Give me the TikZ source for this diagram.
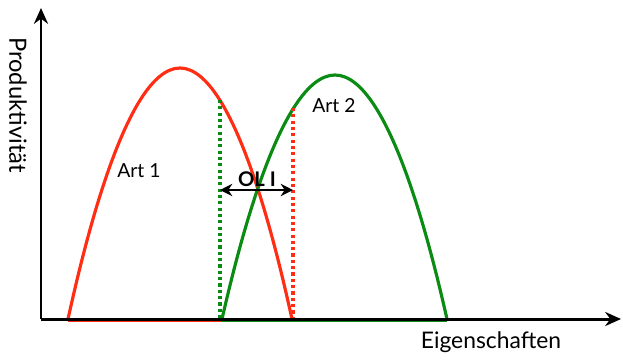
\documentclass[tikz,border=0pt]{standalone}
\usepackage{fontspec}
\setmainfont{Lato}
\usepackage{tikz}
\usetikzlibrary{arrows.meta,positioning}

\definecolor{artred}{RGB}{255,45,20}
\definecolor{artgreen}{RGB}{10,140,20}

\tikzset{
  axis/.style={line width=1.7pt, -{Stealth[length=9pt,width=8pt]}},
  curve/.style={line width=1.8pt},
  marker/.style={line width=2pt, dash pattern=on 1.8pt off 1.8pt},
  lbl/.style={font=\fontsize{11}{13}\selectfont, inner sep=1pt}
}

\begin{document}
\begin{tikzpicture}[x=0.02cm, y=-0.02cm]
\useasboundingbox (0,0) rectangle (623,360);

% Axes end points
\coordinate (origin) at (41,319);
\coordinate (ytop) at (41,8);
\coordinate (xend) at (621,319);

% Art 1
\draw[curve, artred] (68,319) parabola bend (180,68) (292,319);
\draw[curve, artred] (68,320.5) -- (292,320.5);
% Art 2
\draw[curve, artgreen] (222,319) parabola bend (335,75) (447,319);
\draw[curve, artgreen] (222,320.5) -- (447,320.5);

% Overlap boundaries
\coordinate (gtop) at (220,100);
\coordinate (gbot) at (220,319);
\coordinate (rtop) at (293,108);
\coordinate (rbot) at (293,319);
\draw[marker, artgreen] (gtop) -- (gbot);
\draw[marker, artred] (rtop) -- (rbot);

% Axes
\draw[axis] (origin) -- (ytop);
\draw[axis] (origin) -- (xend);

% Overlap arrow
\coordinate (olleft) at (220,190);
\coordinate (olright) at (293,190);
\draw[line width=1.6pt, {Stealth[length=7pt,width=7pt]}-{Stealth[length=7pt,width=7pt]}] (olleft) -- (olright);
\node[lbl, font=\bfseries\fontsize{11.5}{13}\selectfont] (ol) at (257,179) {OL I};

% Labels
\node[lbl] (art1) at (139,171) {Art 1};
\node[lbl] (art2) at (334,106) {Art 2};
\node[font=\fontsize{13}{15}\selectfont] (xlabel) at (491,342) {Eigenschaften};
\node[font=\fontsize{13.5}{15}\selectfont, rotate=-90] (ylabel) at (18,105) {Produktivität};
\end{tikzpicture}
\end{document}
